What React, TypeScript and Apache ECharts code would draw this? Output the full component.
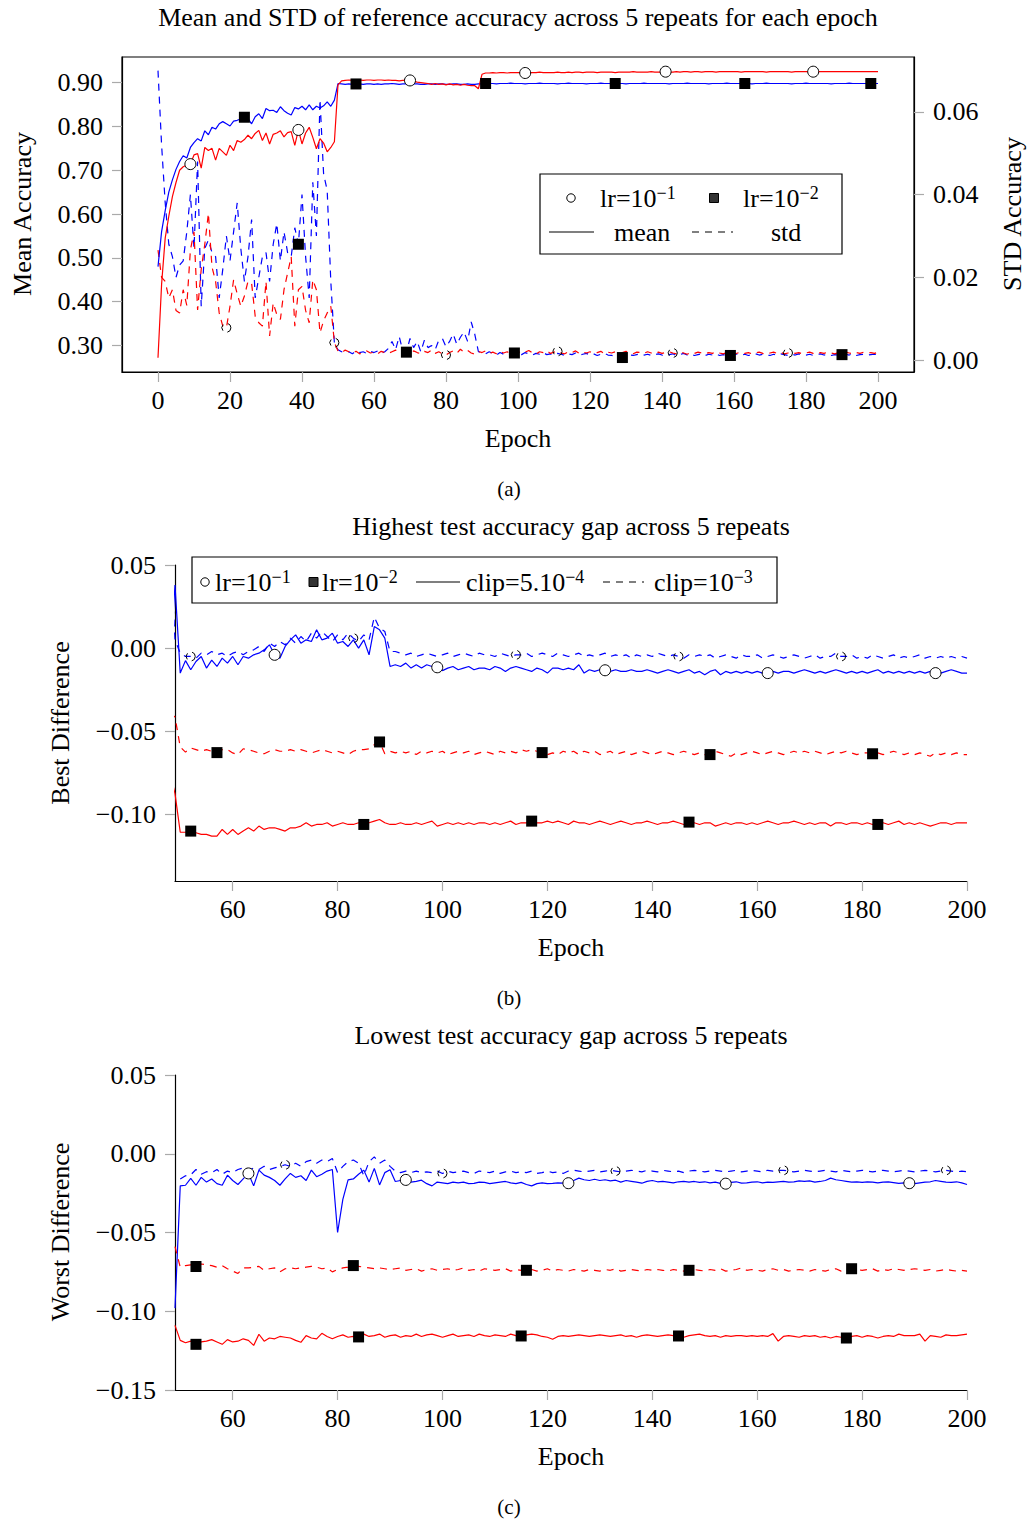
import React, { useEffect, useRef } from 'react';
import * as echarts from 'echarts';

const FONT = 'Liberation Serif';
const FS = 26;

// ---------- Panel (a): epochs 0..200 ----------
const startA = 0;
const meanLr1 = [
0.272,0.440,0.545,0.595,0.640,0.672,0.700,0.708,0.712,0.714,
0.735,0.738,0.705,0.752,0.745,0.750,0.723,0.750,0.742,0.734,
0.757,0.745,0.768,0.764,0.770,0.780,0.772,0.784,0.791,0.768,
0.785,0.760,0.782,0.785,0.790,0.776,0.786,0.788,0.757,0.792,
0.760,0.785,0.798,0.775,0.749,0.772,0.762,0.742,0.752,0.765,
0.895,0.904,0.905,0.906,0.905,0.906,0.906,0.905,0.906,0.906,
0.905,0.906,0.906,0.905,0.906,0.905,0.905,0.904,0.905,0.905,
0.905,0.903,0.901,0.900,0.899,0.898,0.896,0.898,0.896,0.897,
0.895,0.897,0.895,0.896,0.894,0.896,0.894,0.893,0.893,0.886,
0.919,0.922,0.922,0.923,0.922,0.923,0.923,0.922,0.923,0.923,
0.923,0.923,0.922,0.923,0.923,0.923,0.924,0.923,0.923,0.923,
0.923,0.924,0.923,0.923,0.924,0.923,0.924,0.924,0.923,0.924,
0.924,0.924,0.923,0.924,0.924,0.924,0.924,0.923,0.924,0.924,
0.924,0.924,0.925,0.924,0.924,0.924,0.924,0.925,0.924,0.924,
0.924,0.925,0.924,0.924,0.925,0.924,0.925,0.925,0.924,0.925,
0.925,0.924,0.925,0.925,0.925,0.924,0.925,0.925,0.925,0.925,
0.925,0.925,0.924,0.925,0.925,0.925,0.925,0.925,0.925,0.924,
0.925,0.925,0.925,0.925,0.925,0.925,0.924,0.925,0.925,0.925,
0.925,0.925,0.925,0.925,0.925,0.925,0.925,0.925,0.925,0.925,
0.925,0.925,0.925,0.925,0.925,0.925,0.925,0.925,0.925,0.925,
0.925];
const meanLr2 = [
0.480,0.560,0.608,0.650,0.678,0.702,0.720,0.733,0.728,0.752,
0.763,0.772,0.767,0.790,0.781,0.798,0.794,0.806,0.811,0.806,
0.801,0.812,0.814,0.817,0.821,0.818,0.806,0.822,0.829,0.818,
0.841,0.836,0.837,0.832,0.845,0.836,0.830,0.826,0.843,0.840,
0.846,0.838,0.849,0.838,0.846,0.842,0.847,0.856,0.846,0.860,
0.898,0.897,0.896,0.897,0.896,0.897,0.897,0.896,0.897,0.897,
0.896,0.897,0.896,0.897,0.897,0.898,0.897,0.896,0.897,0.897,
0.896,0.897,0.897,0.896,0.896,0.897,0.897,0.896,0.897,0.897,
0.896,0.896,0.897,0.897,0.896,0.896,0.897,0.896,0.896,0.897,
0.897,0.898,0.898,0.898,0.897,0.898,0.898,0.898,0.899,0.898,
0.898,0.898,0.897,0.898,0.898,0.898,0.899,0.898,0.898,0.898,
0.898,0.897,0.898,0.898,0.899,0.898,0.898,0.898,0.898,0.897,
0.898,0.898,0.898,0.899,0.898,0.898,0.898,0.898,0.898,0.898,
0.897,0.898,0.898,0.898,0.898,0.899,0.898,0.898,0.898,0.898,
0.898,0.898,0.897,0.898,0.898,0.898,0.898,0.899,0.898,0.898,
0.898,0.898,0.898,0.897,0.898,0.898,0.898,0.898,0.899,0.898,
0.898,0.898,0.898,0.898,0.898,0.897,0.898,0.898,0.898,0.899,
0.898,0.898,0.898,0.898,0.898,0.898,0.897,0.898,0.898,0.898,
0.899,0.898,0.898,0.898,0.898,0.898,0.898,0.897,0.898,0.898,
0.898,0.898,0.899,0.898,0.898,0.898,0.898,0.898,0.898,0.898,
0.898];
const stdLr1 = [
0.0266,0.020,0.019,0.015,0.017,0.012,0.0114,0.017,0.0132,0.0266,
0.031,0.0121,0.0219,0.028,0.0355,0.0225,0.019,0.0114,0.0082,0.0078,
0.013,0.0194,0.016,0.013,0.0155,0.019,0.0186,0.0106,0.009,0.0082,
0.019,0.0058,0.0138,0.011,0.0098,0.017,0.021,0.025,0.0082,0.017,
0.0178,0.012,0.009,0.0194,0.017,0.0066,0.0095,0.0114,0.013,0.0042,
0.0022,0.0018,0.0024,0.0020,0.0016,0.0021,0.0015,0.0018,0.0022,0.0017,
0.0019,0.0015,0.0021,0.0018,0.0016,0.0020,0.0024,0.0017,0.0014,0.0019,
0.0016,0.0022,0.0018,0.0015,0.0021,0.0018,0.0024,0.0016,0.0020,0.0015,
0.0012,0.0018,0.0022,0.0016,0.0026,0.0019,0.0023,0.0017,0.0014,0.0021,
0.0018,0.0022,0.0016,0.0019,0.0015,0.0021,0.0017,0.0020,0.0014,0.0018,
0.0021,0.0016,0.0019,0.0023,0.0017,0.0014,0.0020,0.0018,0.0022,0.0016,
0.0019,0.0021,0.0017,0.0015,0.0020,0.0018,0.0022,0.0016,0.0019,0.0017,
0.0020,0.0016,0.0018,0.0021,0.0015,0.0019,0.0017,0.0020,0.0016,0.0018,
0.0021,0.0017,0.0015,0.0019,0.0018,0.0016,0.0020,0.0017,0.0015,0.0019,
0.0016,0.0018,0.0020,0.0017,0.0015,0.0019,0.0017,0.0014,0.0018,0.0016,
0.0019,0.0017,0.0015,0.0018,0.0016,0.0020,0.0017,0.0015,0.0018,0.0016,
0.0014,0.0017,0.0019,0.0016,0.0018,0.0015,0.0017,0.0019,0.0016,0.0014,
0.0017,0.0019,0.0016,0.0018,0.0015,0.0017,0.0019,0.0016,0.0018,0.0015,
0.0017,0.0019,0.0016,0.0014,0.0018,0.0016,0.0019,0.0017,0.0015,0.0018,
0.0016,0.0019,0.0017,0.0015,0.0018,0.0016,0.0019,0.0017,0.0018,0.0016,
0.0019];
const stdLr2 = [
0.070,0.052,0.038,0.028,0.025,0.020,0.023,0.024,0.031,0.040,
0.027,0.048,0.013,0.027,0.029,0.026,0.025,0.015,0.022,0.030,
0.024,0.031,0.038,0.027,0.019,0.025,0.034,0.015,0.020,0.025,
0.026,0.019,0.028,0.033,0.024,0.031,0.026,0.025,0.032,0.028,
0.040,0.025,0.015,0.043,0.030,0.063,0.045,0.041,0.019,0.004,
0.0025,0.0020,0.0018,0.0020,0.0015,0.0022,0.0018,0.0020,0.0016,0.0021,
0.0018,0.0022,0.0016,0.0020,0.0028,0.0045,0.0025,0.0057,0.0022,0.0019,
0.0052,0.0030,0.0045,0.0020,0.0048,0.0030,0.0035,0.0025,0.0048,0.0052,
0.0032,0.0045,0.0063,0.0038,0.0055,0.0068,0.0045,0.0092,0.0062,0.0020,
0.0018,0.0015,0.0020,0.0016,0.0012,0.0018,0.0014,0.0016,0.0012,0.0017,
0.0016,0.0013,0.0018,0.0015,0.0012,0.0016,0.0014,0.0018,0.0013,0.0015,
0.0012,0.0016,0.0014,0.0011,0.0015,0.0013,0.0017,0.0012,0.0014,0.0016,
0.0012,0.0015,0.0011,0.0014,0.0016,0.0012,0.0011,0.0010,0.0008,0.0006,
0.0009,0.0012,0.0011,0.0013,0.0015,0.0012,0.0014,0.0011,0.0013,0.0015,
0.0012,0.0010,0.0013,0.0015,0.0011,0.0013,0.0016,0.0012,0.0014,0.0011,
0.0013,0.0015,0.0011,0.0014,0.0012,0.0015,0.0011,0.0013,0.0012,0.0011,
0.0013,0.0015,0.0012,0.0014,0.0011,0.0013,0.0015,0.0012,0.0014,0.0012,
0.0011,0.0014,0.0012,0.0015,0.0013,0.0011,0.0014,0.0012,0.0015,0.0013,
0.0012,0.0014,0.0011,0.0013,0.0015,0.0012,0.0014,0.0011,0.0013,0.0012,
0.0013,0.0014,0.0012,0.0015,0.0011,0.0013,0.0014,0.0012,0.0013,0.0014,
0.0013];
const aMeanLr1Marks = [9, 39, 70, 102, 141, 182];
const aMeanLr2Marks = [24, 55, 91, 127, 163, 198];
const aStdLr1Marks = [19, 49, 80, 111, 143, 175];
const aStdLr2Marks = [39, 69, 99, 129, 159, 190];
const ticksAx = [0, 20, 40, 60, 80, 100, 120, 140, 160, 180, 200];
const ticksAyL = [0.3, 0.4, 0.5, 0.6, 0.7, 0.8, 0.9];
const ticksAyR = [0, 0.02, 0.04, 0.06];

// ---------- Panel (b): epochs 48..200 ----------
const startB = 48;
const bBlueSolid = [
-0.012,0.038,-0.015,-0.0075,-0.013,-0.008,-0.005,-0.012,-0.0072,-0.011,-0.006,-0.009,
-0.005,-0.010,-0.005,-0.006,-0.004,-0.003,-0.001,0.002,-0.004,-0.006,
0.001,0.005,0.008,0.003,0.005,0.004,0.011,0.005,0.006,0.009,
0.003,0.004,0.001,0.005,0.000,0.005,-0.004,0.013,0.011,0.006,
-0.011,-0.010,-0.011,-0.009,-0.012,-0.010,-0.012,-0.010,-0.011,-0.0115,
-0.0135,-0.012,-0.011,-0.013,-0.012,-0.011,-0.013,-0.012,-0.012,-0.013,
-0.011,-0.012,-0.014,-0.012,-0.011,-0.012,-0.013,-0.014,-0.012,-0.013,
-0.015,-0.012,-0.012,-0.013,-0.012,-0.013,-0.010,-0.015,-0.013,-0.014,
-0.013,-0.0133,-0.014,-0.013,-0.014,-0.014,-0.013,-0.014,-0.014,-0.013,
-0.014,-0.015,-0.014,-0.013,-0.014,-0.015,-0.014,-0.013,-0.015,-0.014,
-0.016,-0.014,-0.013,-0.016,-0.014,-0.015,-0.014,-0.015,-0.014,-0.015,
-0.014,-0.015,-0.015,-0.014,-0.015,-0.014,-0.014,-0.015,-0.014,-0.013,
-0.014,-0.015,-0.014,-0.015,-0.014,-0.013,-0.014,-0.015,-0.014,-0.015,
-0.014,-0.015,-0.014,-0.013,-0.015,-0.014,-0.015,-0.014,-0.015,-0.014,
-0.015,-0.014,-0.015,-0.014,-0.015,-0.015,-0.014,-0.013,-0.014,-0.015,
-0.015];
const bBlueDashed = [
0.064,0.005,-0.003,-0.005,-0.005,-0.006,-0.003,-0.004,-0.002,-0.004,-0.003,-0.005,
-0.003,-0.002,-0.004,-0.002,-0.001,0.001,-0.002,0.003,0.001,0.004,
0.002,0.006,0.003,0.007,0.004,0.009,0.006,0.010,0.007,0.004,
0.008,0.005,0.009,0.006,0.004,0.008,0.005,0.0187,0.012,0.010,
-0.002,-0.002,-0.003,-0.004,-0.003,-0.005,-0.004,-0.003,-0.004,-0.005,
-0.004,-0.003,-0.005,-0.004,-0.003,-0.004,-0.005,-0.003,-0.004,-0.004,
-0.005,-0.003,-0.004,-0.005,-0.004,-0.004,-0.003,-0.005,-0.004,-0.003,
-0.004,-0.005,-0.003,-0.004,-0.005,-0.004,-0.003,-0.005,-0.004,-0.005,
-0.004,-0.003,-0.005,-0.004,-0.005,-0.004,-0.006,-0.004,-0.005,-0.004,
-0.005,-0.003,-0.004,-0.005,-0.004,-0.005,-0.006,-0.004,-0.005,-0.004,
-0.005,-0.004,-0.006,-0.005,-0.004,-0.005,-0.006,-0.004,-0.005,-0.005,
-0.004,-0.006,-0.005,-0.004,-0.005,-0.006,-0.005,-0.004,-0.005,-0.006,
-0.005,-0.004,-0.006,-0.005,-0.005,-0.003,-0.005,-0.005,-0.004,-0.006,
-0.005,-0.006,-0.004,-0.005,-0.006,-0.005,-0.004,-0.006,-0.005,-0.006,
-0.005,-0.004,-0.006,-0.005,-0.006,-0.005,-0.006,-0.005,-0.006,-0.005,
-0.006];
const bRedDashed = [
-0.039,-0.0414,-0.0594,-0.0625,-0.060,-0.061,-0.062,-0.061,-0.062,-0.0628,-0.061,-0.061,
-0.063,-0.064,-0.0605,-0.061,-0.062,-0.063,-0.0635,-0.062,-0.061,-0.062,
-0.062,-0.061,-0.062,-0.061,-0.062,-0.063,-0.062,-0.061,-0.062,-0.063,
-0.062,-0.063,-0.064,-0.062,-0.061,-0.061,-0.0605,-0.058,-0.0564,-0.0635,
-0.062,-0.063,-0.062,-0.063,-0.062,-0.064,-0.062,-0.063,-0.062,-0.063,
-0.062,-0.064,-0.063,-0.062,-0.063,-0.062,-0.064,-0.063,-0.062,-0.063,
-0.064,-0.062,-0.063,-0.062,-0.063,-0.061,-0.062,-0.061,-0.062,-0.0628,
-0.064,-0.063,-0.064,-0.062,-0.063,-0.062,-0.064,-0.062,-0.063,-0.062,
-0.064,-0.063,-0.062,-0.064,-0.063,-0.062,-0.064,-0.063,-0.062,-0.063,
-0.064,-0.063,-0.062,-0.063,-0.064,-0.063,-0.062,-0.063,-0.064,-0.063,
-0.064,-0.064,-0.062,-0.063,-0.064,-0.065,-0.063,-0.064,-0.063,-0.062,
-0.063,-0.064,-0.063,-0.062,-0.063,-0.064,-0.063,-0.062,-0.063,-0.062,
-0.063,-0.062,-0.063,-0.064,-0.063,-0.062,-0.063,-0.062,-0.063,-0.064,
-0.063,-0.063,-0.0635,-0.063,-0.064,-0.063,-0.062,-0.063,-0.064,-0.063,
-0.064,-0.063,-0.064,-0.065,-0.063,-0.064,-0.063,-0.064,-0.063,-0.064,
-0.064];
const bRedSolid = [
-0.0745,-0.0875,-0.1107,-0.1107,-0.110,-0.111,-0.112,-0.112,-0.113,-0.113,-0.109,-0.112,
-0.109,-0.112,-0.110,-0.108,-0.110,-0.107,-0.109,-0.108,-0.108,-0.109,
-0.110,-0.108,-0.108,-0.107,-0.105,-0.107,-0.106,-0.106,-0.105,-0.107,
-0.106,-0.105,-0.106,-0.106,-0.105,-0.106,-0.105,-0.104,-0.103,-0.105,
-0.106,-0.106,-0.105,-0.106,-0.106,-0.105,-0.106,-0.105,-0.104,-0.107,
-0.106,-0.105,-0.106,-0.105,-0.106,-0.105,-0.106,-0.105,-0.105,-0.106,
-0.105,-0.106,-0.105,-0.104,-0.106,-0.105,-0.105,-0.104,-0.105,-0.105,
-0.104,-0.105,-0.104,-0.105,-0.106,-0.104,-0.105,-0.105,-0.106,-0.105,
-0.104,-0.105,-0.106,-0.105,-0.104,-0.105,-0.106,-0.105,-0.105,-0.104,
-0.105,-0.106,-0.105,-0.105,-0.104,-0.105,-0.106,-0.1046,-0.105,-0.106,
-0.105,-0.105,-0.107,-0.106,-0.105,-0.106,-0.105,-0.105,-0.106,-0.105,
-0.106,-0.105,-0.104,-0.105,-0.106,-0.105,-0.105,-0.104,-0.105,-0.106,
-0.105,-0.106,-0.105,-0.105,-0.107,-0.105,-0.105,-0.106,-0.105,-0.105,
-0.106,-0.105,-0.106,-0.106,-0.105,-0.106,-0.105,-0.104,-0.106,-0.105,
-0.106,-0.105,-0.106,-0.107,-0.106,-0.105,-0.105,-0.106,-0.105,-0.105,
-0.105];
const bBlueSolidMarks = [68, 99, 131, 162, 194];
const bBlueDashedMarks = [52, 83, 114, 145, 176];
const bRedDashedMarks = [57, 88, 119, 151, 182];
const bRedSolidMarks = [52, 85, 117, 147, 183];
const ticksBCx = [60, 80, 100, 120, 140, 160, 180, 200];
const ticksBy = [-0.1, -0.05, 0, 0.05];

// ---------- Panel (c): epochs 49..200 ----------
const startC = 49;
const cBlueSolid = [
-0.098,
-0.0204,-0.020,-0.0157,-0.020,-0.015,-0.018,-0.016,-0.019,-0.020,-0.0136,
-0.017,-0.0195,-0.016,-0.0125,-0.0204,-0.0104,-0.0136,-0.015,-0.017,-0.020,
-0.016,-0.0125,-0.015,-0.014,-0.017,-0.0104,-0.0146,-0.013,-0.011,-0.010,
-0.050,-0.029,-0.0166,-0.016,-0.013,-0.0104,-0.018,-0.0093,-0.0198,-0.012,
-0.0102,-0.0176,-0.017,-0.0166,-0.018,-0.0175,-0.0168,-0.019,-0.0204,-0.018,
-0.0185,-0.019,-0.018,-0.0185,-0.018,-0.019,-0.0188,-0.018,-0.0182,-0.019,
-0.0185,-0.018,-0.0176,-0.0185,-0.019,-0.0182,-0.0195,-0.0204,-0.019,-0.0185,
-0.019,-0.0188,-0.0185,-0.0187,-0.0187,-0.017,-0.0155,-0.0165,-0.017,-0.0162,
-0.017,-0.0165,-0.0172,-0.0168,-0.018,-0.017,-0.0175,-0.018,-0.0187,-0.0175,
-0.017,-0.0178,-0.0175,-0.018,-0.0185,-0.0178,-0.0175,-0.018,-0.0176,-0.0182,
-0.0178,-0.0185,-0.018,-0.0188,-0.019,-0.0182,-0.0178,-0.0186,-0.0185,-0.018,
-0.0178,-0.0185,-0.018,-0.0182,-0.0178,-0.0175,-0.018,-0.0178,-0.0172,-0.0175,
-0.0172,-0.018,-0.0176,-0.017,-0.0155,-0.0165,-0.017,-0.0175,-0.018,-0.0178,
-0.0182,-0.0178,-0.018,-0.0185,-0.018,-0.0178,-0.0183,-0.0188,-0.0185,-0.0187,
-0.019,-0.0185,-0.018,-0.0178,-0.017,-0.0175,-0.018,-0.0182,-0.0178,-0.0185,
-0.0195];
const cBlueDashed = [
null,
-0.016,-0.014,-0.0134,-0.010,-0.013,-0.0114,-0.012,-0.010,-0.013,-0.011,
-0.012,-0.010,-0.009,-0.011,-0.009,-0.010,-0.008,-0.010,-0.009,-0.008,
-0.007,-0.008,-0.006,-0.008,-0.005,-0.004,-0.006,-0.004,-0.005,-0.003,
-0.012,-0.008,-0.005,-0.004,-0.006,-0.014,-0.005,-0.002,-0.006,-0.004,
-0.008,-0.011,-0.012,-0.011,-0.012,-0.011,-0.012,-0.0115,-0.012,-0.011,
-0.0125,-0.011,-0.012,-0.0115,-0.011,-0.012,-0.0125,-0.011,-0.0115,-0.012,
-0.011,-0.0125,-0.0115,-0.011,-0.012,-0.0115,-0.012,-0.011,-0.0125,-0.012,
-0.011,-0.012,-0.0115,-0.0125,-0.011,-0.0105,-0.011,-0.0115,-0.011,-0.0105,
-0.0115,-0.011,-0.0105,-0.011,-0.0115,-0.011,-0.0105,-0.011,-0.0115,-0.0105,
-0.011,-0.0115,-0.0105,-0.011,-0.0115,-0.011,-0.012,-0.011,-0.0105,-0.011,
-0.0115,-0.011,-0.0105,-0.011,-0.0115,-0.011,-0.0105,-0.0115,-0.011,-0.0105,
-0.011,-0.0115,-0.0105,-0.011,-0.0105,-0.0105,-0.011,-0.0115,-0.011,-0.0105,
-0.011,-0.0115,-0.011,-0.0105,-0.011,-0.0115,-0.0105,-0.011,-0.0115,-0.011,
-0.0105,-0.011,-0.0115,-0.011,-0.0105,-0.011,-0.0115,-0.011,-0.0105,-0.011,
-0.0115,-0.011,-0.0105,-0.011,-0.0115,-0.011,-0.0105,-0.011,-0.0115,-0.011,
-0.0115];
const cRedDashed = [
-0.059,
-0.072,-0.071,-0.0705,-0.0716,-0.070,-0.0705,-0.071,-0.072,-0.071,-0.073,
-0.0745,-0.076,-0.0725,-0.0725,-0.072,-0.0715,-0.074,-0.073,-0.0725,-0.075,
-0.073,-0.0725,-0.073,-0.0725,-0.072,-0.0715,-0.072,-0.073,-0.0725,-0.075,
-0.0735,-0.0725,-0.072,-0.071,-0.0715,-0.072,-0.0725,-0.073,-0.0725,-0.073,
-0.0735,-0.073,-0.0725,-0.074,-0.0735,-0.073,-0.0745,-0.0735,-0.073,-0.074,
-0.0735,-0.073,-0.074,-0.0735,-0.0725,-0.074,-0.0735,-0.0745,-0.073,-0.0735,
-0.074,-0.0735,-0.073,-0.0745,-0.0735,-0.074,-0.074,-0.0735,-0.0745,-0.074,
-0.073,-0.0745,-0.0735,-0.074,-0.0745,-0.0735,-0.074,-0.0745,-0.0735,-0.074,
-0.0745,-0.0735,-0.074,-0.073,-0.0745,-0.074,-0.0735,-0.074,-0.0745,-0.0735,
-0.074,-0.0735,-0.074,-0.0745,-0.0735,-0.074,-0.0745,-0.074,-0.0735,-0.074,
-0.0745,-0.0735,-0.074,-0.073,-0.0745,-0.074,-0.0735,-0.0725,-0.074,-0.0735,
-0.074,-0.0745,-0.0735,-0.073,-0.074,-0.0735,-0.0745,-0.074,-0.0735,-0.074,
-0.0745,-0.0735,-0.074,-0.0745,-0.0735,-0.073,-0.0745,-0.074,-0.073,-0.0735,
-0.074,-0.0735,-0.073,-0.0745,-0.0735,-0.074,-0.073,-0.0735,-0.074,-0.0735,
-0.073,-0.0735,-0.074,-0.0735,-0.0745,-0.074,-0.0735,-0.074,-0.0745,-0.074,
-0.0745];
const cRedSolid = [
-0.109,
-0.1185,-0.120,-0.119,-0.121,-0.1195,-0.119,-0.118,-0.1195,-0.121,-0.118,
-0.1195,-0.119,-0.1175,-0.1185,-0.1217,-0.1146,-0.119,-0.117,-0.1175,-0.116,
-0.1165,-0.117,-0.1185,-0.1197,-0.1155,-0.117,-0.1175,-0.114,-0.116,-0.1175,
-0.116,-0.115,-0.1165,-0.116,-0.1163,-0.1145,-0.116,-0.1155,-0.1145,-0.1165,
-0.1155,-0.115,-0.1165,-0.1155,-0.116,-0.1145,-0.116,-0.115,-0.1145,-0.1155,
-0.1165,-0.1155,-0.1145,-0.116,-0.1155,-0.115,-0.116,-0.1145,-0.1155,-0.116,
-0.115,-0.1155,-0.116,-0.1145,-0.1155,-0.1157,-0.115,-0.1145,-0.115,-0.116,
-0.1165,-0.1178,-0.116,-0.1155,-0.116,-0.1155,-0.115,-0.1155,-0.116,-0.1155,
-0.115,-0.1155,-0.116,-0.1155,-0.115,-0.116,-0.1155,-0.1165,-0.1155,-0.115,
-0.1155,-0.116,-0.1155,-0.115,-0.1155,-0.1157,-0.1165,-0.1155,-0.115,-0.1145,
-0.1155,-0.116,-0.1155,-0.1165,-0.1155,-0.116,-0.1155,-0.1155,-0.116,-0.1155,
-0.116,-0.1155,-0.116,-0.1142,-0.119,-0.116,-0.1155,-0.116,-0.1165,-0.1155,
-0.116,-0.1155,-0.1165,-0.116,-0.117,-0.116,-0.1165,-0.117,-0.116,-0.1155,
-0.1165,-0.1155,-0.116,-0.117,-0.116,-0.1155,-0.116,-0.1145,-0.1155,-0.1155,
-0.1155,-0.1145,-0.119,-0.1155,-0.116,-0.1165,-0.115,-0.1155,-0.1155,-0.115,
-0.1145];
const cBlueSolidMarks = [63, 93, 124, 154, 189];
const cBlueDashedMarks = [70, 100, 133, 165, 196];
const cRedDashedMarks = [53, 83, 116, 147, 178];
const cRedSolidMarks = [53, 84, 115, 145, 177];
const ticksCy = [-0.15, -0.1, -0.05, 0, 0.05];

// ---------- helpers ----------
const BLUE = '#0000ff';
const RED = '#ff0000';
const DASH = [7, 6];

const toPairs = (start: number, ys: (number | null)[]) =>
  ys.map((y, i) => [start + i, y]).filter((p) => p[1] !== null);

const lineSeries = (xi: number, yi: number, start: number, ys: (number | null)[], color: string, dashed: boolean) => ({
  type: 'line',
  xAxisIndex: xi,
  yAxisIndex: yi,
  data: toPairs(start, ys),
  showSymbol: false,
  symbol: 'none',
  clip: false,
  silent: true,
  z: 2,
  lineStyle: { color, width: 1.2, type: dashed ? DASH : 'solid', opacity: 1 },
  emphasis: { disabled: true },
});

const markSeries = (xi: number, yi: number, start: number, ys: (number | null)[], idx: number[], kind: 'circle' | 'square' | 'dcircle') => ({
  type: 'scatter',
  xAxisIndex: xi,
  yAxisIndex: yi,
  data: idx.map((e) => [e, ys[e - start]]),
  symbol: kind === 'square' ? 'rect' : 'circle',
  symbolSize: kind === 'square' ? 11 : kind === 'circle' ? 11 : 9,
  silent: true,
  z: 5,
  itemStyle:
    kind === 'square'
      ? { color: '#000', opacity: 1 }
      : kind === 'circle'
      ? { color: '#fff', borderColor: '#000', borderWidth: 1, opacity: 1 }
      : { color: 'rgba(255,255,255,0)', borderColor: '#000', borderWidth: 1, borderType: [6, 5], opacity: 1 },
  emphasis: { disabled: true },
});

const fmt2 = (v: number) => (v < -1e-9 ? '\u2212' : '') + Math.abs(v).toFixed(2);

const labelStyle = { fontFamily: FONT, fontSize: FS, color: '#000' };
const axisLineStyle = { show: true, onZero: false, lineStyle: { color: '#000', width: 1.2 } };
const tickStyle = (vals: number[]) => ({ show: true, length: 10, inside: false, customValues: vals, lineStyle: { color: '#aaaaaa', width: 1.2 } });

const xAxisDef = (gi: number, min: number, max: number, ticks: number[]) => ({
  type: 'value',
  gridIndex: gi,
  min,
  max,
  axisLine: axisLineStyle,
  axisTick: tickStyle(ticks),
  axisLabel: { ...labelStyle, margin: 15, customValues: ticks, formatter: (v: number) => String(Math.round(v)) },
  splitLine: { show: false },
});

const yAxisDef = (gi: number, min: number, max: number, ticks: number[], position: string) => ({
  type: 'value',
  gridIndex: gi,
  min,
  max,
  position,
  axisLine: axisLineStyle,
  axisTick: tickStyle(ticks),
  axisLabel: { ...labelStyle, margin: 19, customValues: ticks, formatter: fmt2 },
  splitLine: { show: false },
});

const txt = (x: number, y: number, text: string, size = FS, rotation = 0, align = 'center') => ({
  type: 'text',
  x,
  y,
  rotation,
  z: 100,
  style: { text, fontFamily: FONT, fontSize: size, fill: '#000', align, verticalAlign: 'middle' },
});

const supText = (x: number, y: number, base: string, sup: string) => ({
  type: 'text',
  x,
  y,
  z: 101,
  style: {
    text: `{b|${base}}{s|${sup}}`,
    align: 'left',
    verticalAlign: 'middle',
    rich: {
      b: { fontFamily: FONT, fontSize: FS, lineHeight: 28, fill: '#000' },
      s: { fontFamily: FONT, fontSize: 18, lineHeight: 13, fill: '#000', verticalAlign: 'top' },
    },
  },
});

const buildOption = () => {
  const graphic: any[] = [
    // titles
    txt(518, 17, 'Mean and STD of reference accuracy across 5 repeats for each epoch'),
    txt(571, 526, 'Highest test accuracy gap across 5 repeats'),
    txt(571, 1035, 'Lowest test accuracy gap across 5 repeats'),
    // captions
    txt(509, 489, '(a)', 21),
    txt(509, 998, '(b)', 21),
    txt(509, 1507, '(c)', 21),
    // axis names
    txt(518, 438, 'Epoch'),
    txt(22, 214, 'Mean Accuracy', FS, Math.PI / 2),
    txt(1012, 214, 'STD Accuracy', FS, Math.PI / 2),
    txt(571, 947, 'Epoch'),
    txt(60, 723, 'Best Difference', FS, Math.PI / 2),
    txt(571, 1456, 'Epoch'),
    txt(60, 1232, 'Worst Difference', FS, Math.PI / 2),
    // legend (a)
    { type: 'rect', z: 99, shape: { x: 540, y: 174, width: 302, height: 80 }, style: { fill: '#fff', stroke: '#000', lineWidth: 1.2 } },
    { type: 'circle', z: 101, shape: { cx: 571, cy: 198, r: 4.2 }, style: { fill: '#fff', stroke: '#000', lineWidth: 1 } },
    supText(600, 198, 'lr=10', '\u22121'),
    { type: 'rect', z: 101, shape: { x: 709.5, y: 193.5, width: 9, height: 9 }, style: { fill: '#333', stroke: '#000', lineWidth: 1 } },
    supText(743, 198, 'lr=10', '\u22122'),
    { type: 'line', z: 101, shape: { x1: 549, y1: 232, x2: 594, y2: 232 }, style: { stroke: '#000', lineWidth: 1.2 } },
    txt(614, 232, 'mean', FS, 0, 'left'),
    { type: 'line', z: 101, shape: { x1: 692, y1: 232, x2: 733, y2: 232 }, style: { stroke: '#000', lineWidth: 1.2, lineDash: DASH } },
    txt(771, 232, 'std', FS, 0, 'left'),
    // legend (b)
    { type: 'rect', z: 99, shape: { x: 192, y: 557, width: 585, height: 46 }, style: { fill: '#fff', stroke: '#000', lineWidth: 1.2 } },
    { type: 'circle', z: 101, shape: { cx: 205, cy: 582, r: 4.2 }, style: { fill: '#fff', stroke: '#000', lineWidth: 1 } },
    supText(215, 582, 'lr=10', '\u22121'),
    { type: 'rect', z: 101, shape: { x: 309, y: 577.5, width: 9, height: 9 }, style: { fill: '#333', stroke: '#000', lineWidth: 1 } },
    supText(322, 582, 'lr=10', '\u22122'),
    { type: 'line', z: 101, shape: { x1: 416, y1: 582, x2: 460, y2: 582 }, style: { stroke: '#000', lineWidth: 1.2 } },
    supText(466, 582, 'clip=5.10', '\u22124'),
    { type: 'line', z: 101, shape: { x1: 603, y1: 582, x2: 644, y2: 582 }, style: { stroke: '#000', lineWidth: 1.2, lineDash: DASH } },
    supText(654, 582, 'clip=10', '\u22123'),
  ];

  return {
    animation: false,
    backgroundColor: '#fff',
    textStyle: { fontFamily: FONT },
    grid: [
      { left: 122, top: 57, width: 792, height: 315, show: true, borderColor: '#000', borderWidth: 1.2, backgroundColor: 'rgba(0,0,0,0)', containLabel: false, outerBoundsMode: 'none' },
      { left: 175, top: 565, width: 792, height: 316, containLabel: false, outerBoundsMode: 'none' },
      { left: 175, top: 1075, width: 792, height: 315, containLabel: false, outerBoundsMode: 'none' },
    ],
    xAxis: [
      xAxisDef(0, -10, 210, ticksAx),
      xAxisDef(1, 49, 200, ticksBCx),
      xAxisDef(2, 49, 200, ticksBCx),
    ],
    yAxis: [
      yAxisDef(0, 0.2395, 0.9585, ticksAyL, 'left'),
      yAxisDef(0, -0.0029, 0.0733, ticksAyR, 'right'),
      yAxisDef(1, -0.14, 0.05, ticksBy, 'left'),
      yAxisDef(2, -0.15, 0.05, ticksCy, 'left'),
    ],
    series: [
      // panel (a)
      lineSeries(0, 1, startA, stdLr2, BLUE, true),
      lineSeries(0, 1, startA, stdLr1, RED, true),
      lineSeries(0, 0, startA, meanLr2, BLUE, false),
      lineSeries(0, 0, startA, meanLr1, RED, false),
      markSeries(0, 0, startA, meanLr1, aMeanLr1Marks, 'circle'),
      markSeries(0, 0, startA, meanLr2, aMeanLr2Marks, 'square'),
      markSeries(0, 1, startA, stdLr1, aStdLr1Marks, 'dcircle'),
      markSeries(0, 1, startA, stdLr2, aStdLr2Marks, 'square'),
      // panel (b)
      lineSeries(1, 2, startB, bBlueSolid, BLUE, false),
      lineSeries(1, 2, startB, bBlueDashed, BLUE, true),
      lineSeries(1, 2, startB, bRedSolid, RED, false),
      lineSeries(1, 2, startB, bRedDashed, RED, true),
      markSeries(1, 2, startB, bBlueSolid, bBlueSolidMarks, 'circle'),
      markSeries(1, 2, startB, bBlueDashed, bBlueDashedMarks, 'dcircle'),
      markSeries(1, 2, startB, bRedSolid, bRedSolidMarks, 'square'),
      markSeries(1, 2, startB, bRedDashed, bRedDashedMarks, 'square'),
      // panel (c)
      lineSeries(2, 3, startC, cBlueSolid, BLUE, false),
      lineSeries(2, 3, startC, cBlueDashed, BLUE, true),
      lineSeries(2, 3, startC, cRedSolid, RED, false),
      lineSeries(2, 3, startC, cRedDashed, RED, true),
      markSeries(2, 3, startC, cBlueSolid, cBlueSolidMarks, 'circle'),
      markSeries(2, 3, startC, cBlueDashed, cBlueDashedMarks, 'dcircle'),
      markSeries(2, 3, startC, cRedSolid, cRedSolidMarks, 'square'),
      markSeries(2, 3, startC, cRedDashed, cRedDashedMarks, 'square'),
    ],
    graphic,
  };
};

export default function App() {
  const ref = useRef<HTMLDivElement>(null);
  useEffect(() => {
    if (!ref.current) return;
    const chart = echarts.init(ref.current, null, { renderer: 'svg' });
    chart.setOption(buildOption() as any);
    return () => chart.dispose();
  }, []);
  return (
    <div
      ref={ref}
      style={{ position: 'absolute', left: 0, top: 0, width: 1028, height: 1521, background: '#fff' }}
    />
  );
}
